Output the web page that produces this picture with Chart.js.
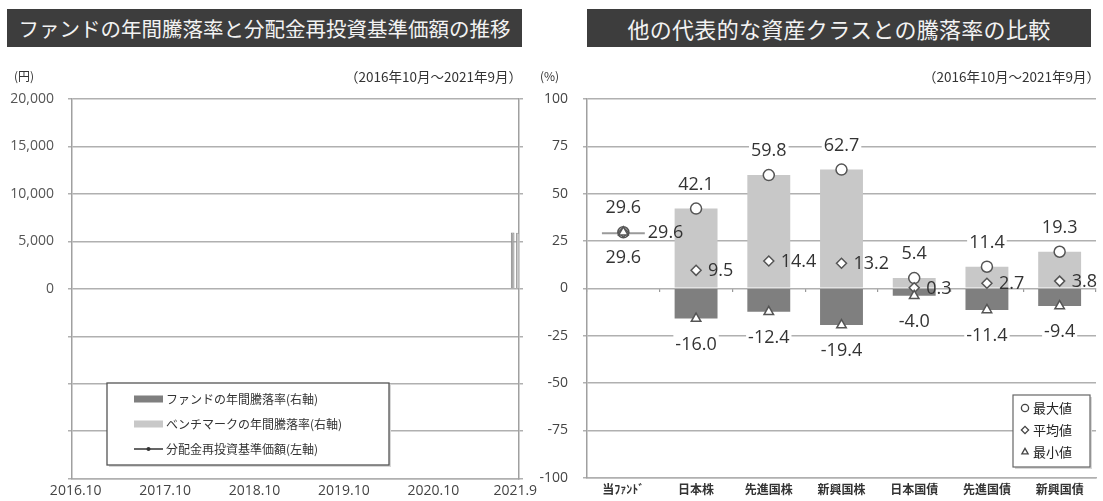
<!DOCTYPE html>
<html><head><meta charset="utf-8">
<script src="https://cdn.jsdelivr.net/npm/chart.js@4.4.1/dist/chart.umd.min.js"></script>
<style>
html,body{margin:0;padding:0;background:#fff;}
#page{position:relative;width:1103px;height:501px;overflow:hidden;font-family:"Noto Sans CJK JP",sans-serif;}
.title{position:absolute;top:9px;height:38px;line-height:38px;background:#3d3d3d;color:#f2f2f2;text-align:center;white-space:nowrap;}
.note{position:absolute;color:#333;white-space:nowrap;line-height:16px;}
.wrap{position:absolute;top:0;height:501px;}
</style></head>
<body><div id="page">
<div class="wrap" style="left:0;width:543px"><canvas id="cl"></canvas></div>
<div class="wrap" style="left:540px;width:563px"><canvas id="cr"></canvas></div>
<div class="title" style="left:7px;width:515px;font-size:20.5px;">ファンドの年間騰落率と分配金再投資基準価額の推移</div>
<div class="title" style="left:587px;width:504px;font-size:22px;letter-spacing:0.3px">他の代表的な資産クラスとの騰落率の比較</div>
<div class="note" style="left:14px;top:68px;font-size:12px">(円)</div>
<div class="note" style="right:581px;top:68px;font-size:13.5px">（2016年10月～2021年9月）</div>
<div class="note" style="left:540px;top:68px;font-size:12px">(%)</div>
<div class="note" style="right:3px;top:68px;font-size:13.5px">（2016年10月～2021年9月）</div>
</div>
<script>
// ---------- Left chart data ----------
const monthLabels = [];
for (let y = 2016, m = 10; !(y === 2021 && m === 10);) {
  monthLabels.push(y + '.' + m);
  m++; if (m > 12) { m = 1; y++; }
}
const shownMonthTicks = ['2016.10', '2017.10', '2018.10', '2019.10', '2020.10', '2021.9'];
const fundAnnualReturn = [['2021.9', 29.6]];
const benchAnnualReturn = [['2021.9', 29.5]];
const navValues = [];
const leftSeriesNames = ['ファンドの年間騰落率(右軸)', 'ベンチマークの年間騰落率(右軸)', '分配金再投資基準価額(左軸)'];

// ---------- Right chart data ----------
const assetClasses = ['当ﾌｧﾝﾄﾞ', '日本株', '先進国株', '新興国株', '日本国債', '先進国債', '新興国債'];
const maxValues = [29.6, 42.1, 59.8, 62.7, 5.4, 11.4, 19.3];
const avgValues = [29.6, 9.5, 14.4, 13.2, 0.3, 2.7, 3.8];
const minValues = [29.6, -16.0, -12.4, -19.4, -4.0, -11.4, -9.4];
const markerNames = ['最大値', '平均値', '最小値'];

const GRID = '#b0b0b0';
const TICKC = '#444';
const NUMFONT = '"Open Sans", "DejaVu Sans", sans-serif';
const JPFONT = '"Noto Sans CJK JP", sans-serif';

function fmtThousands(v) { return String(v).replace(/\B(?=(\d{3})+(?!\d))/g, ','); }

function marker(ctx, style, x, y, r) {
  ctx.beginPath();
  if (style === 'circle') ctx.arc(x, y, r, 0, Math.PI * 2);
  else if (style === 'rectRot') { ctx.moveTo(x - r, y); ctx.lineTo(x, y - r); ctx.lineTo(x + r, y); ctx.lineTo(x, y + r); ctx.closePath(); }
  else { ctx.moveTo(x, y - r); ctx.lineTo(x + r * 0.87, y + r * 0.5); ctx.lineTo(x - r * 0.87, y + r * 0.5); ctx.closePath(); }
  ctx.fill(); ctx.stroke();
}

// Legend box for left chart
const leftLegend = {
  id: 'leftLegend',
  afterDraw(chart, args, o) {
    const ctx = chart.ctx;
    ctx.save();
    ctx.fillStyle = '#d8d8d8';
    ctx.fillRect(o.x + 2, o.y + 2, o.w, o.h);
    ctx.fillStyle = '#fff';
    ctx.fillRect(o.x, o.y, o.w, o.h);
    ctx.strokeStyle = '#555'; ctx.lineWidth = 1.3;
    ctx.strokeRect(o.x, o.y, o.w, o.h);
    ctx.font = '12px ' + JPFONT;
    ctx.textBaseline = 'middle'; ctx.textAlign = 'left';
    chart.data.datasets.forEach((ds, i) => {
      const cy = o.y + o.first + i * o.step;
      const sx = o.x + o.sx;
      if (ds.type === 'line') {
        ctx.strokeStyle = ds.borderColor; ctx.lineWidth = 1.5;
        ctx.beginPath(); ctx.moveTo(sx, cy); ctx.lineTo(sx + o.sw, cy); ctx.stroke();
        ctx.fillStyle = ds.borderColor;
        ctx.beginPath(); ctx.arc(sx + o.sw / 2, cy, 2, 0, Math.PI * 2); ctx.fill();
      } else {
        ctx.fillStyle = ds.legendColor;
        ctx.fillRect(sx, cy - 3.5, o.sw, 7);
      }
      ctx.fillStyle = '#333';
      ctx.fillText(ds.label, sx + o.sw + 3, cy + 0.5);
    });
    ctx.restore();
  }
};

const leftCtx = document.getElementById('cl');
new Chart(leftCtx, {
  type: 'bar',
  data: {
    labels: monthLabels,
    datasets: [
      { label: leftSeriesNames[0], data: fundAnnualReturn.map(d => ({ x: d[0], y: d[1] })), yAxisID: 'y1',
        backgroundColor: '#a8a8a8', borderColor: '#888', borderWidth: 1, legendColor: '#7f7f7f',
        categoryPercentage: 1.4, barPercentage: 0.7, order: 2 },
      { label: leftSeriesNames[1], data: benchAnnualReturn.map(d => ({ x: d[0], y: d[1] })), yAxisID: 'y1',
        backgroundColor: '#c8c8c8', borderColor: '#999', borderWidth: 1, legendColor: '#c8c8c8',
        categoryPercentage: 1.4, barPercentage: 0.7, order: 2 },
      { type: 'line', label: leftSeriesNames[2], data: navValues, yAxisID: 'y',
        borderColor: '#333', borderWidth: 1.5, pointRadius: 2, order: 1 }
    ]
  },
  options: {
    responsive: true, maintainAspectRatio: false, animation: false,
    layout: { padding: { top: 99, left: 0, right: 0, bottom: 0 } },
    plugins: {
      legend: { display: false }, tooltip: { enabled: false },
      leftLegend: { x: 107, y: 383, w: 282, h: 82, first: 16, step: 25, sx: 27, sw: 29 }
    },
    scales: {
      x: {
        type: 'category', offset: true,
        grid: { display: false, drawTicks: false },
        border: { display: true, color: GRID, width: 1.5 },
        ticks: {
          autoSkip: false, maxRotation: 0, minRotation: 0, padding: 4, color: TICKC,
          font: { family: NUMFONT, size: 14 },
          callback: function (v) { const l = this.getLabelForValue(v); return shownMonthTicks.includes(l) ? l : ''; }
        },
        afterFit: s => { s.height = 22; }
      },
      y: {
        position: 'left', min: -20000, max: 20000,
        ticks: { stepSize: 5000, padding: 14, color: '#555', font: { family: NUMFONT, size: 14 },
          callback: v => (v >= 0 ? fmtThousands(v) : '') },
        grid: { color: GRID, lineWidth: 1.5, tickLength: 4 },
        border: { display: true, color: '#a0a0a0', width: 1.5 },
        afterFit: s => { s.width = 72; }
      },
      y1: {
        position: 'right', min: -100, max: 100,
        ticks: { display: false, stepSize: 25 },
        grid: { display: true, drawOnChartArea: false, drawTicks: true, tickLength: 4, color: GRID, lineWidth: 1.5 },
        border: { display: true, color: '#a0a0a0', width: 1.5 },
        afterFit: s => { s.width = 24; }
      }
    }
  },
  plugins: [leftLegend]
});

// ---------- Right chart ----------
const pointLabels = {
  id: 'pointLabels',
  afterDatasetsDraw(chart, args, o) {
    const ctx = chart.ctx;
    ctx.save();
    ctx.font = o.size + 'px ' + NUMFONT;
    ctx.textBaseline = 'middle';
    const barMeta = chart.getDatasetMeta(3);
    [0, 1, 2].forEach(di => {
      const spec = o.specs[di];
      const meta = chart.getDatasetMeta(di);
      const values = chart.data.datasets[di].data;
      meta.data.forEach((pt, i) => {
        const txt = values[i].toFixed(1);
        let dx = spec.dx;
        if (spec.align === 'left' && maxValues[i] === minValues[i]) {
          dx = barMeta.data[i].width / 2 + 3;
        }
        const x = pt.x + dx, y = pt.y + spec.dy;
        const w = ctx.measureText(txt).width;
        const left = spec.align === 'center' ? x - w / 2 : x;
        if (spec.bg) { ctx.fillStyle = '#fff'; ctx.fillRect(left - 2, y - 9, w + 4, 18); }
        ctx.fillStyle = '#333';
        ctx.textAlign = spec.align;
        ctx.fillText(txt, x, y + 1);
      });
    });
    ctx.restore();
  }
};

const rightLegend = {
  id: 'rightLegend',
  afterDraw(chart, args, o) {
    const ctx = chart.ctx;
    ctx.save();
    ctx.fillStyle = '#d8d8d8';
    ctx.fillRect(o.x + 2, o.y + 2, o.w, o.h);
    ctx.fillStyle = '#fff';
    ctx.fillRect(o.x, o.y, o.w, o.h);
    ctx.strokeStyle = '#666'; ctx.lineWidth = 1.2;
    ctx.strokeRect(o.x, o.y, o.w, o.h);
    ctx.font = '13px ' + JPFONT;
    ctx.textBaseline = 'middle'; ctx.textAlign = 'left';
    [0, 1, 2].forEach((di, k) => {
      const ds = chart.data.datasets[di];
      const cy = o.y + o.first + k * o.step;
      ctx.fillStyle = '#fff'; ctx.strokeStyle = '#444'; ctx.lineWidth = 1.3;
      marker(ctx, ds.pointStyle, o.x + o.mx, cy, 3.6);
      ctx.fillStyle = '#222';
      ctx.fillText(ds.label, o.x + o.tx, cy + 0.5);
    });
    ctx.restore();
  }
};

const upRange = assetClasses.map((c, i) => [Math.max(0, minValues[i]), maxValues[i]]);
const downRange = assetClasses.map((c, i) => (minValues[i] < 0 ? [minValues[i], Math.min(0, maxValues[i])] : null));

const markerBase = { type: 'line', showLine: false, pointBackgroundColor: '#fff', pointBorderColor: '#555', pointBorderWidth: 1.5 };

new Chart(document.getElementById('cr'), {
  type: 'bar',
  data: {
    labels: assetClasses,
    datasets: [
      Object.assign({ label: markerNames[0], data: maxValues, pointStyle: 'circle', pointRadius: 5.5, order: 3 }, markerBase),
      Object.assign({ label: markerNames[1], data: avgValues, pointStyle: 'rectRot', pointRadius: 5, order: 2 }, markerBase),
      Object.assign({ label: markerNames[2], data: minValues, pointStyle: 'triangle', pointRadius: 5.5, order: 1 }, markerBase),
      { label: '上昇幅', data: upRange, grouped: false, categoryPercentage: 1, barPercentage: 0.59, minBarLength: 2, order: 10,
        backgroundColor: c => { const r = c.raw; return r && r[0] === r[1] ? '#9a9a9a' : '#c8c8c8'; } },
      { label: '下落幅', data: downRange, grouped: false, categoryPercentage: 1, barPercentage: 0.59, order: 11,
        backgroundColor: '#7f7f7f' }
    ]
  },
  options: {
    responsive: true, maintainAspectRatio: false, animation: false,
    layout: { padding: { top: 99, left: 0, right: 2, bottom: 0 } },
    plugins: {
      legend: { display: false }, tooltip: { enabled: false },
      pointLabels: { size: 18, specs: [
        { dx: 0, dy: -25, align: 'center', bg: true },
        { dx: 12, dy: 0, align: 'left', bg: false },
        { dx: 0, dy: 25, align: 'center', bg: true }
      ] },
      rightLegend: { x: 473, y: 395, w: 77, h: 72, first: 13, step: 22, mx: 12, tx: 20 }
    },
    scales: {
      x: {
        type: 'category', offset: true,
        grid: { display: false, drawTicks: false },
        border: { display: true, color: GRID, width: 1.5 },
        ticks: { padding: 5, color: '#333', font: { family: JPFONT, size: 12, weight: 'bold' }, maxRotation: 0, autoSkip: false },
        afterFit: s => { s.height = 22; }
      },
      x2: {
        type: 'category', position: { y: 0 }, offset: true,
        grid: { display: true, offset: true, drawOnChartArea: false, drawTicks: true, tickLength: 4, color: '#999', lineWidth: 1.2 },
        border: { display: false },
        ticks: { display: false }
      },
      y: {
        position: 'left', min: -100, max: 100,
        ticks: { stepSize: 25, padding: 15, color: TICKC, font: { family: NUMFONT, size: 14 } },
        grid: { color: GRID, lineWidth: 1.5, tickLength: 4 },
        border: { display: true, color: '#a0a0a0', width: 1.5 },
        afterFit: s => { s.width = 47; }
      }
    }
  },
  plugins: [pointLabels, rightLegend]
});
</script>
</body></html>
